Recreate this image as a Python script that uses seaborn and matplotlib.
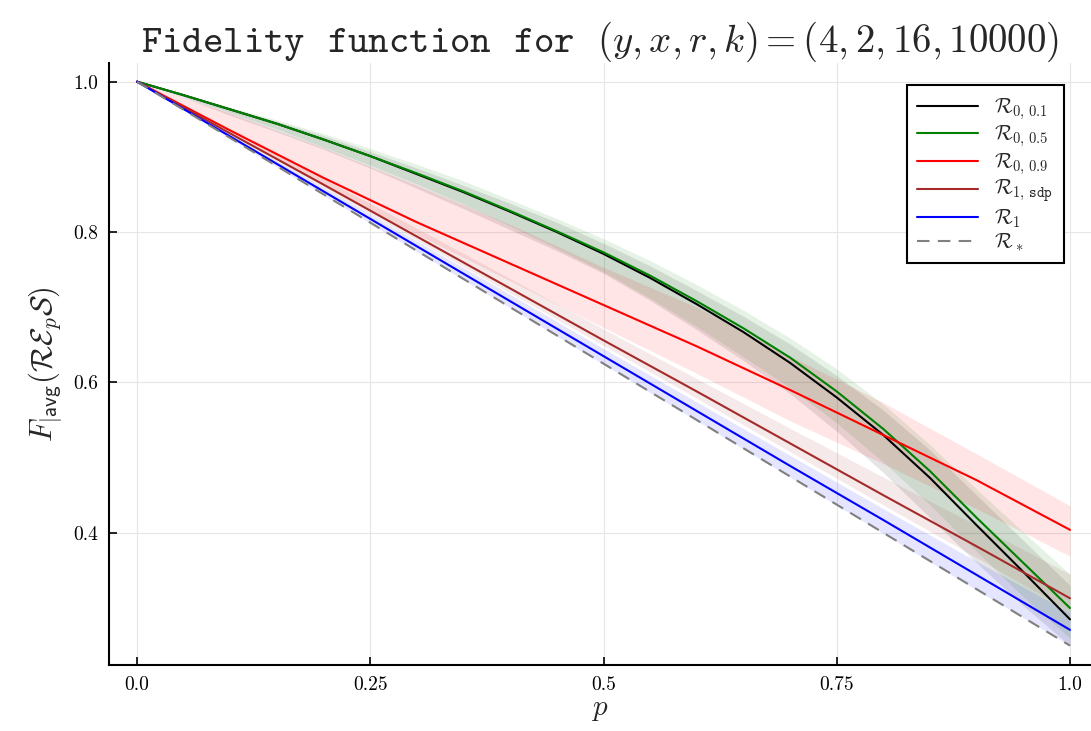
import numpy as np
import pandas as pd
import matplotlib
matplotlib.use('Agg')
import matplotlib.pyplot as plt
import seaborn as sns

# ================= data =================
p = [0.0, 0.1, 0.2, 0.3, 0.4, 0.5, 0.6, 0.7, 0.8, 0.9, 1.0]
p_fine = [0.0, 0.05, 0.1, 0.15, 0.2, 0.25, 0.3, 0.35, 0.4, 0.45, 0.5,
          0.55, 0.6, 0.65, 0.7, 0.75, 0.8, 0.85, 0.9, 0.95, 1.0]

r01 = [1.0, 0.982, 0.963, 0.944, 0.923, 0.901, 0.877, 0.853, 0.827, 0.800, 0.771,
       0.739, 0.704, 0.667, 0.626, 0.580, 0.530, 0.473, 0.410, 0.348, 0.285]
r01_lo = [1.0, 0.979, 0.955, 0.933, 0.910, 0.885, 0.858, 0.831, 0.803, 0.775, 0.745,
          0.709, 0.670, 0.629, 0.585, 0.535, 0.480, 0.420, 0.360, 0.303, 0.250]
r01_hi = [1.0, 0.983, 0.965, 0.947, 0.928, 0.907, 0.885, 0.862, 0.838, 0.813, 0.785,
          0.755, 0.722, 0.688, 0.651, 0.609, 0.563, 0.510, 0.450, 0.390, 0.330]

r05 = [1.0, 0.982, 0.963, 0.944, 0.923, 0.901, 0.878, 0.854, 0.828, 0.801, 0.773,
       0.742, 0.708, 0.672, 0.633, 0.588, 0.538, 0.482, 0.420, 0.360, 0.300]
r05_lo = [1.0, 0.980, 0.959, 0.937, 0.913, 0.889, 0.864, 0.837, 0.808, 0.778, 0.747,
          0.712, 0.674, 0.634, 0.593, 0.546, 0.494, 0.437, 0.375, 0.315, 0.260]
r05_hi = [1.0, 0.983, 0.966, 0.949, 0.931, 0.911, 0.890, 0.868, 0.843, 0.818, 0.791,
          0.762, 0.730, 0.696, 0.659, 0.618, 0.571, 0.517, 0.458, 0.401, 0.345]

r09 = [1.0, 0.935, 0.872, 0.813, 0.758, 0.703, 0.648, 0.590, 0.530, 0.470, 0.404]
r09_lo = [1.0, 0.930, 0.864, 0.797, 0.735, 0.673, 0.612, 0.549, 0.492, 0.432, 0.369]
r09_hi = [1.0, 0.958, 0.912, 0.862, 0.810, 0.753, 0.700, 0.635, 0.573, 0.505, 0.436]

rsdp = [1.0, 0.931, 0.863, 0.794, 0.725, 0.656, 0.588, 0.519, 0.450, 0.382, 0.313]
rsdp_lo = [1.0, 0.929, 0.859, 0.789, 0.719, 0.649, 0.579, 0.508, 0.437, 0.367, 0.295]
rsdp_hi = [1.0, 0.935, 0.871, 0.805, 0.738, 0.671, 0.605, 0.539, 0.474, 0.410, 0.345]

r1 = [1.0, 0.927, 0.854, 0.781, 0.708, 0.635, 0.562, 0.489, 0.417, 0.344, 0.271]
r1_lo = [1.0, 0.924, 0.849, 0.774, 0.699, 0.624, 0.549, 0.474, 0.399, 0.324, 0.250]
r1_hi = [1.0, 0.929, 0.859, 0.788, 0.717, 0.645, 0.574, 0.503, 0.432, 0.362, 0.294]

rstar = [1.0, 0.925, 0.850, 0.775, 0.700, 0.625, 0.550, 0.475, 0.400, 0.325, 0.250]

labels = [r'$\mathcal{R}_{0,\,0.1}$', r'$\mathcal{R}_{0,\,0.5}$', r'$\mathcal{R}_{0,\,0.9}$',
          r'$\mathcal{R}_{1,\,\mathtt{sdp}}$', r'$\mathcal{R}_1$', r'$\mathcal{R}_*$']
xtick_vals = [0.0, 0.25, 0.5, 0.75, 1.0]
xtick_labels = ['0.0', '0.25', '0.5', '0.75', '1.0']
ytick_vals = [0.4, 0.6, 0.8, 1.0]
ytick_labels = ['0.4', '0.6', '0.8', '1.0']

# ================= style =================
sns.set_theme(style='white')
plt.rcParams['font.family'] = ['serif']
plt.rcParams['font.serif'] = ['cmr10', 'DejaVu Serif']
plt.rcParams['mathtext.fontset'] = 'cm'
plt.rcParams['axes.formatter.use_mathtext'] = True

fig = plt.figure(figsize=(10.91, 7.31), dpi=100)
ax = fig.add_axes([0.1, 0.09, 0.9, 0.824])

series = [
    (p_fine, r01, r01_lo, r01_hi, 'black'),
    (p_fine, r05, r05_lo, r05_hi, 'green'),
    (p, r09, r09_lo, r09_hi, 'red'),
    (p, rsdp, rsdp_lo, rsdp_hi, 'brown'),
    (p, r1, r1_lo, r1_hi, 'blue'),
]

for (xs, vals, lo, hi, col), lab in zip(series, labels):
    ax.fill_between(xs, lo, hi, color=col, alpha=0.1, linewidth=0)
    sns.lineplot(x=xs, y=vals, ax=ax, color=col, linewidth=1.5, label=lab)

sns.lineplot(x=p, y=rstar, ax=ax, color='gray', linewidth=1.5, label=labels[5])
ax.lines[-1].set_dashes([6, 4])

ax.set_xlim(-0.03, 1.0225)
ax.set_ylim(0.224, 1.025)
ax.set_xticks(xtick_vals)
ax.set_xticklabels(xtick_labels)
ax.set_yticks(ytick_vals)
ax.set_yticklabels(ytick_labels)
ax.tick_params(direction='in', length=6, width=1.2, labelsize=14, colors='black',
               left=True, bottom=True, pad=8)

ax.grid(True, color='#e6e6e6', linewidth=0.8)
for s in ['top', 'right']:
    ax.spines[s].set_visible(False)
for s in ['left', 'bottom']:
    ax.spines[s].set_color('black')
    ax.spines[s].set_linewidth(1.5)

ax.set_xlabel(r'$p$', fontsize=21, labelpad=2)
ax.set_ylabel(r'$F_{|\mathsf{avg}}(\mathcal{R}\mathcal{E}_p\mathcal{S})$', fontsize=22, labelpad=6)
ax.set_title(r'$\mathtt{Fidelity\ \ function\ \ for}\ \ (y,x,r,k)=(4,2,16,10000)$',
             fontsize=28, pad=8)

leg = ax.legend(loc='upper right', fontsize=15, frameon=True, fancybox=False,
                edgecolor='black', framealpha=1, handlelength=2.9,
                borderpad=0.5, labelspacing=0.08, bbox_to_anchor=(0.983, 0.98))
leg.get_frame().set_linewidth(1.5)

fig.savefig('out.png', dpi=100)
